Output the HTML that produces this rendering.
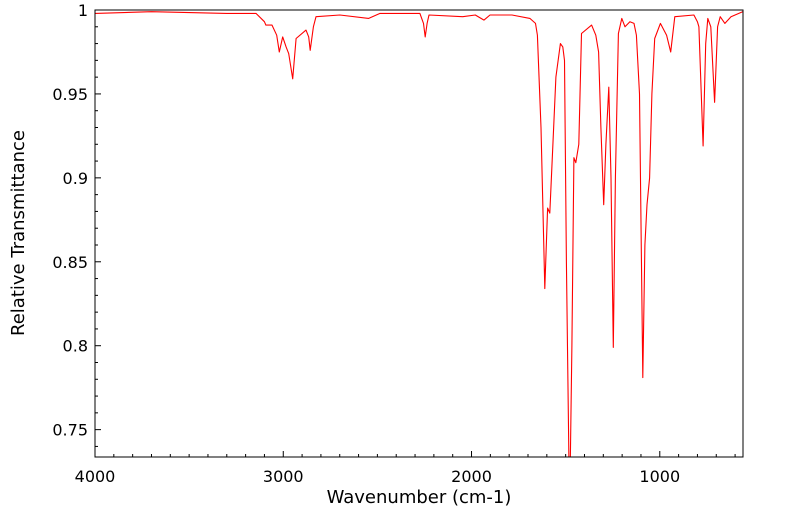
<!DOCTYPE html>
<html><head><meta charset="utf-8"><style>
body{margin:0;background:#fff;}
svg{display:block;font-family:"DejaVu Sans","Liberation Sans",sans-serif;}
</style></head><body>
<svg id="chart" width="799" height="516"></svg>
<script>
const wavenumbers=[4000,3700,3300,3145,3100,3092,3060,3035,3021,3003,2985,2971,2950,2932,2879,2865,2857,2840,2826,2699,2546,2486,2274,2255,2246,2236,2226,2047,1980,1934,1902,1785,1690,1660,1650,1631,1611,1596,1584,1568,1552,1528,1515,1506,1496,1479,1467,1456,1446,1430,1416,1362,1340,1325,1313,1298,1286,1271,1259,1247,1236,1220,1202,1185,1159,1137,1124,1108,1090,1079,1068,1054,1042,1027,997,964,942,920,819,800,792,770,756,745,729,709,693,679,654,622,560];
const transmittance=[0.998,0.999,0.998,0.998,0.993,0.991,0.991,0.985,0.975,0.984,0.978,0.974,0.959,0.983,0.988,0.984,0.976,0.990,0.996,0.997,0.995,0.998,0.998,0.992,0.984,0.992,0.997,0.996,0.997,0.994,0.997,0.997,0.995,0.992,0.985,0.93,0.834,0.882,0.879,0.92,0.96,0.980,0.978,0.97,0.85,0.70,0.80,0.912,0.909,0.92,0.986,0.991,0.985,0.975,0.93,0.884,0.92,0.954,0.9,0.799,0.9,0.986,0.995,0.99,0.993,0.992,0.985,0.95,0.781,0.86,0.884,0.9,0.95,0.983,0.992,0.985,0.975,0.996,0.997,0.993,0.99,0.919,0.98,0.995,0.99,0.945,0.99,0.996,0.992,0.996,0.999];
const xTicks=[4000,3000,2000,1000];
const yTicks=[0.75,0.8,0.85,0.9,0.95,1];
const yTickLabels=["0.75","0.8","0.85","0.9","0.95","1"];

const L=95,R=743,T=10,B=457;
const xMax=4000,xMin=558,yMin=0.7337,yMax=1.0;
const sx=w=>L+(xMax-w)/(xMax-xMin)*(R-L);
const sy=v=>B-(v-yMin)/(yMax-yMin)*(B-T);
const NS="http://www.w3.org/2000/svg";
const svg=document.getElementById('chart');
function mk(tag,attrs,parent){const e=document.createElementNS(NS,tag);for(const k in attrs)e.setAttribute(k,attrs[k]);(parent||svg).appendChild(e);return e;}

const clip=mk('clipPath',{id:'pc'});mk('rect',{x:L,y:T,width:R-L,height:B-T},clip);

let d='';
wavenumbers.forEach((w,i)=>{d+=(i?'L':'M')+sx(w).toFixed(1)+','+sy(transmittance[i]).toFixed(1);});
const line=mk('path',{d:d,fill:'none',stroke:'#ff0000','stroke-width':1.1,'stroke-linejoin':'round','clip-path':'url(#pc)'});



const frame=mk('rect',{x:L,y:T,width:R-L,height:B-T,fill:'none',stroke:'#000','stroke-width':1});



for(let w=4000;w>=xMin;w-=100){
  const major=w%1000===0;
  mk('line',{x1:sx(w),x2:sx(w),y1:B,y2:B-(major?6:3),stroke:'#000','stroke-width':1});
}
xTicks.forEach(w=>{
  const t=mk('text',{x:sx(w),y:B+25,'text-anchor':'middle','font-size':16,fill:'#000'});
  t.textContent=w;
  
  
});
for(let k=74;k<=100;k++){
  const v=k/100;const major=k%5===0;
  mk('line',{x1:L,x2:L+(major?6:3),y1:sy(v),y2:sy(v),stroke:'#000','stroke-width':1});
}
yTicks.forEach((v,i)=>{
  const t=mk('text',{x:L-7,y:sy(v)+6,'text-anchor':'end','font-size':16,fill:'#000'});
  t.textContent=yTickLabels[i];
  
  
});
const xt=mk('text',{x:(L+R)/2,y:503,'text-anchor':'middle','font-size':18,fill:'#000'});
xt.textContent='Wavenumber (cm-1)';


const yt=mk('text',{x:0,y:0,'text-anchor':'middle','font-size':18,fill:'#000',transform:'translate(24,233) rotate(-90)'});
yt.textContent='Relative Transmittance';


</script>
</body></html>
